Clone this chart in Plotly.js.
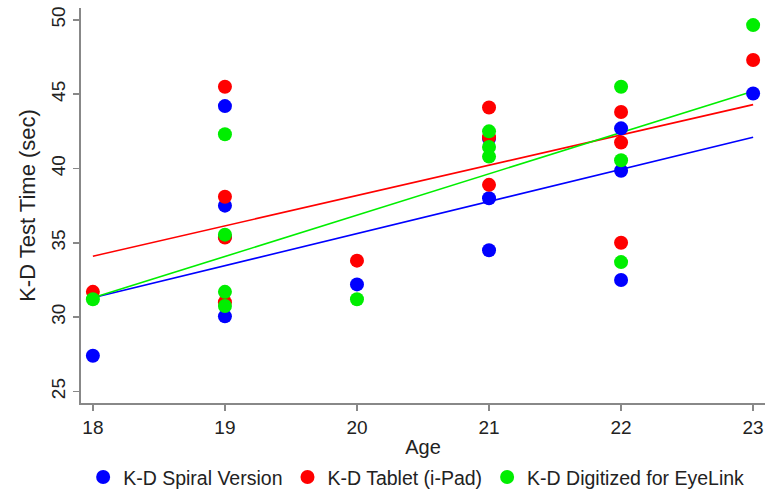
<!DOCTYPE html>
<html>
<head>
<meta charset="utf-8">
<script src="https://cdn.plot.ly/plotly-3.0.1.min.js"></script>
<style>html,body{margin:0;padding:0;background:#fff}#chart{width:767px;height:491px}</style>
</head>
<body>
<div id="chart"></div>
<script>
// Scatter data
const spiralAge  = [18, 19, 19, 19, 19, 20, 21, 21, 21, 22, 22, 22, 23];
const spiralTime = [27.4, 44.2, 37.5, 35.4, 30.05, 32.2, 42.0, 38.0, 34.5, 42.7, 39.85, 32.5, 45.05];

const tabletAge  = [18, 19, 19, 19, 19, 20, 21, 21, 21, 22, 22, 22, 23];
const tabletTime = [31.7, 45.5, 38.1, 35.35, 31.0, 33.8, 44.1, 42.1, 38.9, 43.8, 41.75, 35.0, 47.3];

const eyeAge  = [18, 19, 19, 19, 19, 20, 21, 21, 21, 22, 22, 22, 23];
const eyeTime = [31.2, 42.3, 35.55, 31.7, 30.75, 31.2, 42.5, 41.45, 40.8, 45.5, 40.55, 33.7, 49.65];

// Fitted line endpoints
const fitAge = [18, 23];
const spiralFit = [31.3, 42.1];
const tabletFit = [34.1, 44.3];
const eyeFit = [31.3, 45.2];

const names = ['K-D Spiral Version', 'K-D Tablet (i-Pad)', 'K-D Digitized for EyeLink'];
const colors = ['#0000ff', '#ff0000', '#00ee00'];

const lineTrace = (y, c) => ({x: fitAge, y: y, mode: 'lines', type: 'scatter', showlegend: false,
  hoverinfo: 'skip', line: {color: c, width: 1.6}});
const ptTrace = (x, y, c, n) => ({x: x, y: y, mode: 'markers', type: 'scatter', name: n,
  marker: {color: c, size: 14, line: {width: 0}}});

const data = [
  lineTrace(spiralFit, colors[0]),
  lineTrace(tabletFit, colors[1]),
  lineTrace(eyeFit, colors[2]),
  ptTrace(spiralAge, spiralTime, colors[0], names[0]),
  ptTrace(tabletAge, tabletTime, colors[1], names[1]),
  ptTrace(eyeAge, eyeTime, colors[2], names[2])
];

const fam = '"Liberation Sans", Arial, Helvetica, sans-serif';

const layout = {
  width: 767, height: 491,
  margin: {l: 81, r: 2, t: 8, b: 88},
  paper_bgcolor: '#fff', plot_bgcolor: '#fff',
  font: {family: fam, color: '#222', size: 19},
  showlegend: true,
  xaxis: {
    range: [17.91, 23.09], tickvals: [18, 19, 20, 21, 22, 23],
    showgrid: false, zeroline: false, showline: true, linecolor: '#888', linewidth: 2,
    ticks: 'outside', ticklen: 6, tickcolor: '#888', tickwidth: 1.5,
    tickfont: {size: 19, color: '#222'},
    title: {text: 'Age', font: {size: 20, color: '#222'}, standoff: 5}
  },
  yaxis: {
    range: [24.22, 50.8], tickvals: [25, 30, 35, 40, 45, 50],
    showgrid: false, zeroline: false, showline: true, linecolor: '#888', linewidth: 2,
    ticks: 'outside', ticklen: 6, tickcolor: '#888', tickwidth: 1.5, tickangle: -90,
    tickfont: {size: 19, color: '#222'},
    title: {text: 'K-D Test Time (sec)', font: {size: 22, color: '#222'}, standoff: 7}
  },
  legend: {
    orientation: 'h', xref: 'paper', x: 0.49, xanchor: 'center',
    yref: 'container', y: 0.028, yanchor: 'middle', itemgap: 14,
    font: {size: 19.5, color: '#222'}, traceorder: 'normal'
  }
};

Plotly.newPlot('chart', data, layout, {displayModeBar: false, staticPlot: true});
</script>
</body>
</html>
